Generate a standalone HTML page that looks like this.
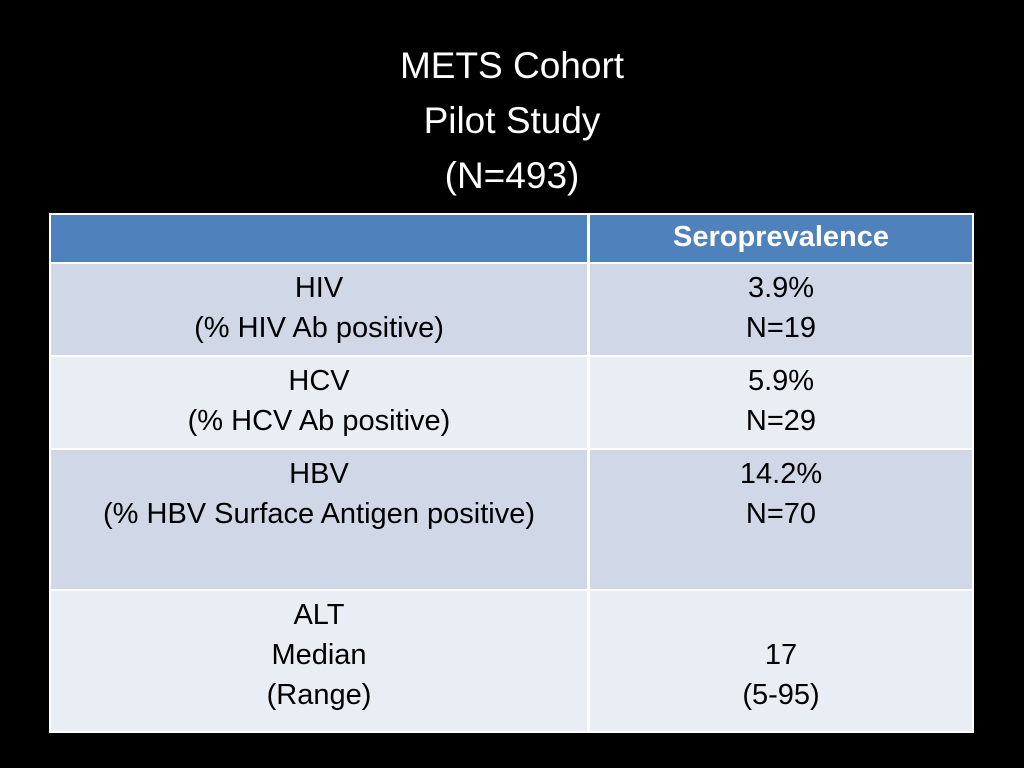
<!DOCTYPE html>
<html><head><meta charset="utf-8"><style>
body{margin:0;width:1024px;height:768px;background:#000;overflow:hidden;position:relative;font-family:"Liberation Sans",Arial,sans-serif}
.t{position:absolute;left:0;width:1024px;text-align:center;color:#fff;font-size:37px;line-height:55px}
.c{position:absolute;box-sizing:border-box;text-align:center;color:#000;font-size:29px;line-height:40px;padding-top:4px}
</style></head><body>
<div class="t" style="top:38px">METS Cohort<br>Pilot Study<br>(N=493)</div>
<div style="position:absolute;left:49px;top:213px;width:925px;height:520px;background:#fff">
<div class="c" style="left:2px;top:2px;width:536px;height:47px;background:#4f81bd"></div>
<div class="c" style="left:541px;top:2px;width:382px;height:47px;background:#4f81bd;color:#fff;font-weight:bold;line-height:45px;padding-top:0">Seroprevalence</div>
<div class="c" style="left:2px;top:51px;width:536px;height:91px;background:#d0d8e8">HIV<br>(% HIV Ab positive)</div>
<div class="c" style="left:541px;top:51px;width:382px;height:91px;background:#d0d8e8">3.9%<br>N=19</div>
<div class="c" style="left:2px;top:144px;width:536px;height:91px;background:#e9edf4">HCV<br>(% HCV Ab positive)</div>
<div class="c" style="left:541px;top:144px;width:382px;height:91px;background:#e9edf4">5.9%<br>N=29</div>
<div class="c" style="left:2px;top:237px;width:536px;height:139px;background:#d0d8e8">HBV<br>(% HBV Surface Antigen positive)</div>
<div class="c" style="left:541px;top:237px;width:382px;height:139px;background:#d0d8e8">14.2%<br>N=70</div>
<div class="c" style="left:2px;top:378px;width:536px;height:140px;background:#e9edf4">ALT<br>Median<br>(Range)</div>
<div class="c" style="left:541px;top:378px;width:382px;height:140px;background:#e9edf4;padding-top:44px">17<br>(5-95)</div>
</div>
</body></html>
